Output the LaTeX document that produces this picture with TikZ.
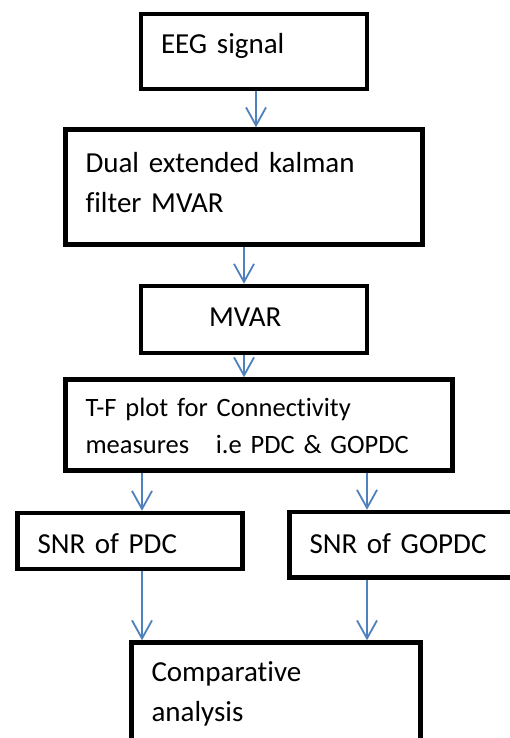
\documentclass[tikz,border=0pt]{standalone}
\usepackage{fontspec}
\setmainfont{Carlito}[Ligatures=NoCommon]
\usepackage{tikz}
\usetikzlibrary{arrows.meta}
\definecolor{flowblue}{RGB}{79,129,189}

\begin{document}
\begin{tikzpicture}[x=1pt,y=-1pt,
	mybox/.style={draw=black,line width=4.5pt,rectangle,inner xsep=20pt,inner ysep=0pt,align=left,text height=20pt,font=\fontsize{29}{40}\selectfont},
	myarrow/.style={draw=flowblue,line width=1.8pt,-{Straight Barb[length=18pt,width=20pt]}}]
%page
\clip (0,0) rectangle (510,738);
\fill[white] (0,0) rectangle (510,738);

%main column
\node[mybox,text width=186pt,minimum height=75pt,text depth=15pt] (eeg) at (254,51.5) {EEG signal};
\node[mybox,text width=317pt,minimum height=115pt,text depth=50pt] (dekf) at (244,187) {Dual extended kalman\\filter MVAR};
\node[mybox,text width=186pt,minimum height=67pt,text depth=5.6pt] (mvar) at (254,319.5) {\hspace*{48pt}MVAR};
\node[mybox,text width=347pt,minimum height=91pt,text depth=36.6pt,font=\fontsize{26.5}{36.6}\selectfont] (tf) at (259,425) {T-F plot for Connectivity\\measures~~~i.e PDC \& GOPDC};

%the two branches
\node[mybox,text width=185pt,minimum height=56pt,text height=25pt,text depth=0.4pt] (snrp) at (130,541) {SNR of PDC};
\node[mybox,text width=184.5pt,minimum height=65.5pt,text depth=3.4pt] (snrg) at (401.75,544.75) {SNR of GOPDC};

%bottom box
\node[mybox,text width=249pt,minimum height=117.5pt,text depth=59pt] (cmp) at (276,701.25) {Comparative\\analysis};

%arrows
\coordinate (lcol) at (142,0);
\coordinate (rcol) at (367,0);
\draw[myarrow] ([xshift=2pt]eeg.south) -- ([xshift=2pt]eeg.south |- dekf.north);
\draw[myarrow] (dekf.south) -- (dekf.south |- mvar.north);
\draw[myarrow] (dekf.south |- mvar.south) -- (dekf.south |- tf.north);
\draw[myarrow] (tf.south -| lcol) -- (snrp.north -| lcol);
\draw[myarrow] (tf.south -| rcol) -- (snrg.north -| rcol);
\draw[myarrow] (snrp.south -| lcol) -- (cmp.north -| lcol);
\draw[myarrow] (snrg.south -| rcol) -- (cmp.north -| rcol);
\end{tikzpicture}
\end{document}
